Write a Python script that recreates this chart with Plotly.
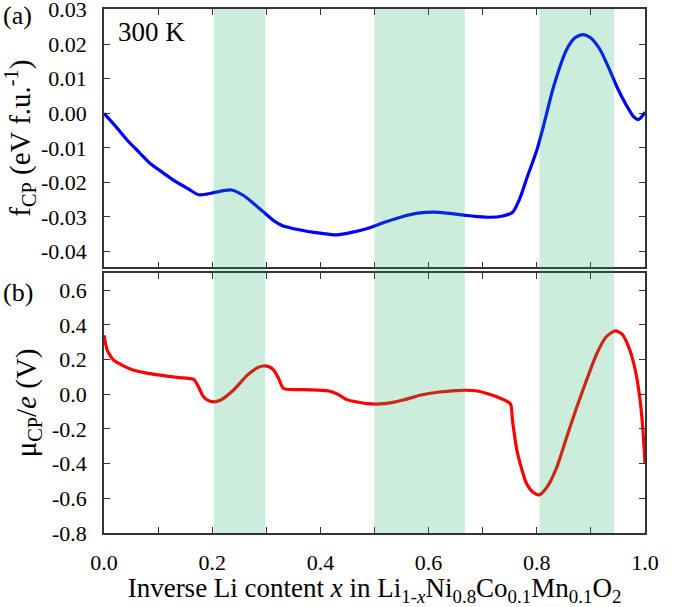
import plotly.graph_objects as go

# ---- data ----
x_f = [0, 0.02, 0.043, 0.065, 0.086, 0.108, 0.129, 0.155, 0.175, 0.19, 0.205, 0.235, 0.258, 0.277,
       0.295, 0.314, 0.329, 0.345, 0.363, 0.385, 0.4, 0.43, 0.46, 0.49, 0.52, 0.554, 0.58, 0.61,
       0.64, 0.67, 0.69, 0.714, 0.735, 0.755, 0.769, 0.781, 0.8, 0.812, 0.831, 0.855, 0.87,
       0.885, 0.9, 0.917, 0.932, 0.948, 0.965, 0.978, 0.988, 1.0]
f_cp = [0, -0.0035, -0.0078, -0.0113, -0.0146, -0.0171, -0.0194, -0.0218, -0.0236, -0.0234,
        -0.0229, -0.0222, -0.0238, -0.0262, -0.0286, -0.0311, -0.0325, -0.0332, -0.0338, -0.0344,
        -0.0347, -0.0352, -0.0344, -0.0332, -0.0315, -0.0298, -0.0289, -0.0286, -0.029, -0.0296,
        -0.0299, -0.0301, -0.0298, -0.0287, -0.0245, -0.019, -0.0107, -0.0039, 0.0077, 0.0184,
        0.0218, 0.0228, 0.0218, 0.0184, 0.0135, 0.0077, 0.0025, -0.0008, -0.0018, 0.0003]

x_mu = [0, 0.003, 0.006, 0.012, 0.018, 0.035, 0.055, 0.08, 0.104, 0.135, 0.166, 0.175, 0.184,
        0.193, 0.203, 0.215, 0.239, 0.265, 0.285, 0.295, 0.305, 0.314, 0.323, 0.332, 0.37, 0.415,
        0.43, 0.449, 0.468, 0.486, 0.51, 0.529, 0.555, 0.584, 0.62, 0.65, 0.67, 0.69, 0.708, 0.73,
        0.751, 0.755, 0.763, 0.772, 0.781, 0.793, 0.805, 0.82, 0.837, 0.855, 0.874, 0.893, 0.911,
        0.928, 0.945, 0.958, 0.972, 0.982, 0.991, 0.996, 1.0]
mu_cp = [0.34, 0.29, 0.254, 0.22, 0.196, 0.165, 0.138, 0.122, 0.11, 0.097, 0.085, 0.04, -0.015,
         -0.037, -0.044, -0.035, 0.023, 0.11, 0.155, 0.163, 0.158, 0.138, 0.09, 0.033, 0.027,
         0.019, 0.003, -0.031, -0.045, -0.054, -0.056, -0.05, -0.032, -0.006, 0.013, 0.021, 0.023,
         0.019, 0.004, -0.02, -0.054, -0.15, -0.32, -0.43, -0.515, -0.565, -0.58, -0.53, -0.42,
         -0.25, -0.073, 0.09, 0.235, 0.33, 0.365, 0.345, 0.254, 0.14, -0.035, -0.2, -0.4]

bands = [(0.203, 0.298), (0.5, 0.667), (0.805, 0.943)]

x_ticks = [0, 0.1, 0.2, 0.3, 0.4, 0.5, 0.6, 0.7, 0.8, 0.9, 1.0]
x_ticktext = ["0.0", "", "0.2", "", "0.4", "", "0.6", "", "0.8", "", "1.0"]
f_ticks = [0.03, 0.02, 0.01, 0.0, -0.01, -0.02, -0.03, -0.04]
f_ticktext = ["0.03", "0.02", "0.01", "0.00", "-0.01", "-0.02", "-0.03", "-0.04"]
mu_ticks = [0.6, 0.4, 0.2, 0.0, -0.2, -0.4, -0.6, -0.8]
mu_ticktext = ["0.6", "0.4", "0.2", "0.0", "-0.2", "-0.4", "-0.6", "-0.8"]

FONT = "'Liberation Serif', 'Times New Roman', Times, serif"
AX = "#333333"
W, H = 675, 607
ML, MR, MT, MB = 103.5, 30, 9, 74.3

fig = go.Figure()
fig.add_trace(go.Scatter(x=x_f, y=f_cp, mode="lines",
                         line=dict(color="#0000ff", width=3.2, shape="spline", smoothing=0.7),
                         xaxis="x", yaxis="y", showlegend=False))
fig.add_trace(go.Scatter(x=x_mu, y=mu_cp, mode="lines",
                         line=dict(color="#ff0000", width=3.2, shape="spline", smoothing=0.7),
                         xaxis="x2", yaxis="y2", showlegend=False))

for a, b in bands:
    fig.add_shape(type="rect", xref="x2", yref="paper", x0=a, x1=b, y0=0, y1=1,
                  fillcolor="rgb(31,176,101)", opacity=0.227, line=dict(width=0), layer="above")

common_x = dict(range=[0, 1], tickvals=x_ticks, ticktext=x_ticktext, ticks="inside", ticklen=6,
                tickwidth=1.3, tickcolor=AX, showline=True, linecolor=AX, linewidth=1.6,
                mirror="ticks", showgrid=False, zeroline=False, automargin=False)
common_y = dict(ticks="inside", ticklen=6, tickwidth=1.3, tickcolor=AX, showline=True,
                linecolor=AX, linewidth=1.6, mirror="ticks", showgrid=False, zeroline=False,
                automargin=False, ticklabeloverflow="allow")

fig.update_layout(
    width=W, height=H,
    margin=dict(l=ML, r=MR, t=MT, b=MB),
    paper_bgcolor="white", plot_bgcolor="white",
    font=dict(family=FONT, size=22, color="black"),
    xaxis=dict(**common_x, domain=[0, 1], anchor="y", showticklabels=False),
    yaxis=dict(**common_y, domain=[0.507, 1], range=[-0.0446, 0.0302], tickvals=f_ticks,
               ticktext=f_ticktext, anchor="x", ticklabelstandoff=11,
               title=dict(text="f<sub>CP</sub> (eV f.u.<sup>-1</sup>)", font=dict(size=29),
                          standoff=7)),
    xaxis2=dict(**common_x, domain=[0, 1], anchor="y2", ticklabelstandoff=9,
                ticklabeloverflow="allow",
                title=dict(text="Inverse Li content <i>x</i> in Li<sub>1-<i>x</i></sub>Ni<sub>0.8</sub>Co<sub>0.1</sub>Mn<sub>0.1</sub>O<sub>2</sub>",
                           font=dict(size=27), standoff=4)),
    yaxis2=dict(**common_y, domain=[0, 0.4965], range=[-0.8, 0.7], tickvals=mu_ticks,
                ticktext=mu_ticktext, anchor="x2", ticklabelstandoff=11,
                title=dict(text="μ<sub>CP</sub>/<i>e</i> (V)", font=dict(size=29), standoff=7)),
)

plot_w = W - ML - MR
plot_h = H - MT - MB
def px_to_paper(px, py):
    return (px - ML) / plot_w, 1 - (py - MT) / plot_h

ax_, ay_ = px_to_paper(17, 15)
bx_, by_ = px_to_paper(17, 292)
kx_, ky_ = px_to_paper(151, 32)
fig.update_layout(annotations=[
    dict(text="(a)", x=ax_, y=ay_, xref="paper", yref="paper", showarrow=False,
         font=dict(size=26), xanchor="center", yanchor="middle"),
    dict(text="(b)", x=bx_, y=by_, xref="paper", yref="paper", showarrow=False,
         font=dict(size=26), xanchor="center", yanchor="middle"),
    dict(text="300 K", x=kx_, y=ky_, xref="paper", yref="paper", showarrow=False,
         font=dict(size=27), xanchor="center", yanchor="middle"),
])

fig.write_html("out.html", config={"displayModeBar": False},
               post_script="document.body.style.margin='0';document.body.style.overflow='hidden';")
